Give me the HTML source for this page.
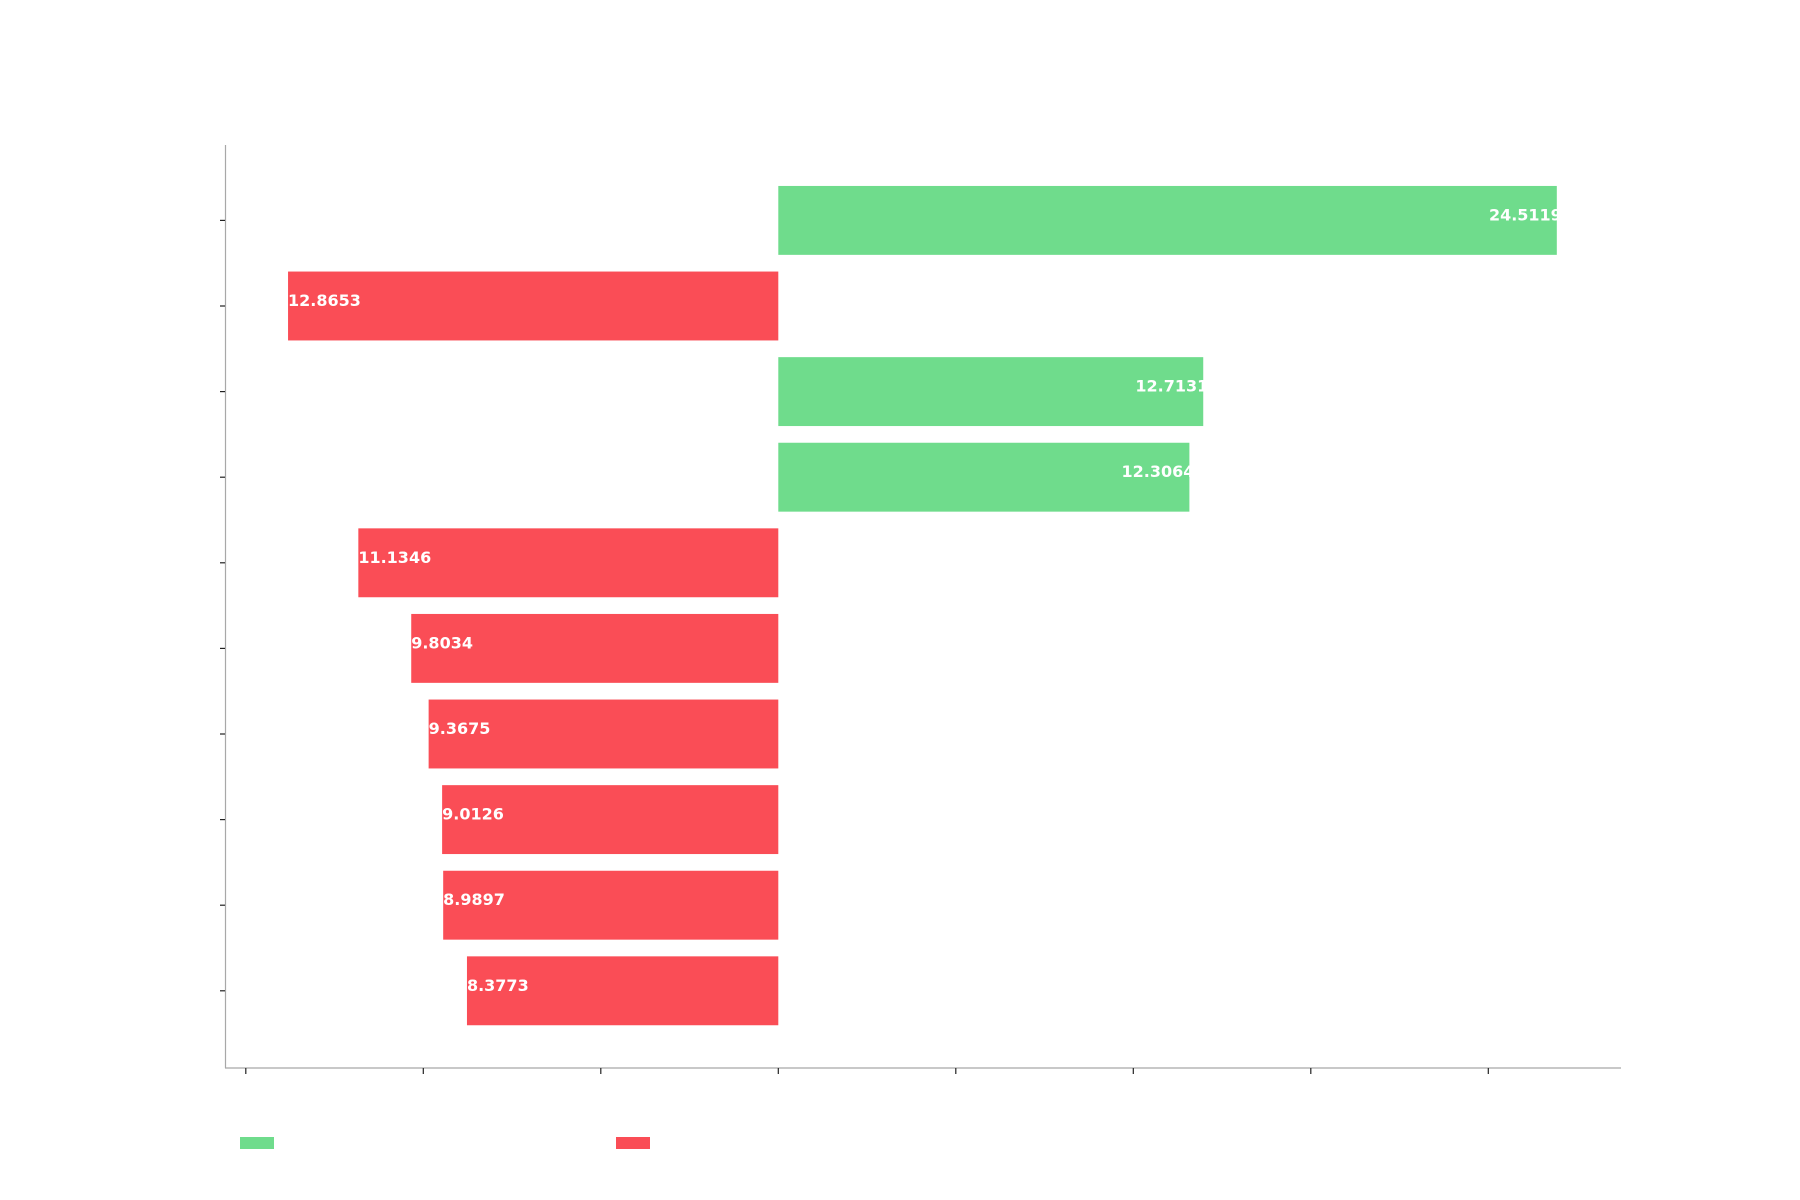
<!DOCTYPE html>
<html><head><meta charset="utf-8"><style>
html,body{margin:0;padding:0;background:#fff;width:1800px;height:1200px;overflow:hidden}
svg text{font-family:"DejaVu Sans","Liberation Sans",sans-serif}
</style></head><body>
<svg id="chart" width="1800" height="1200" viewBox="0 0 1800 1200" xmlns="http://www.w3.org/2000/svg">
<g id="plot"></g>
<line x1="225.5" y1="145" x2="225.5" y2="1068" stroke="#a8a8a8" stroke-width="1.2"/>
<line x1="225" y1="1068" x2="1621" y2="1068" stroke="#a8a8a8" stroke-width="1.2"/>
<rect x="240" y="1137" width="34" height="12" fill="#6fdc8c"/>
<rect x="616" y="1137" width="34" height="12" fill="#fa4d56"/>
</svg>
<script>
const categories = ["r1","r2","r3","r4","r5","r6","r7","r8","r9","r10"];
const barValues = [21.93, -13.81, 11.97, 11.58, -11.83, -10.34, -9.85, -9.47, -9.44, -8.77];
const valueLabels = ["24.5119","12.8653","12.7131","12.3064","11.1346","9.8034","9.3675","9.0126","8.9897","8.3773"];
const xTicks = [-15,-10,-5,0,5,10,15,20];

const NS="http://www.w3.org/2000/svg";
const svg=document.getElementById('chart');
const plot=document.getElementById('plot');
const x0=778.3, pxPerUnit=35.5;
function xScale(v){return x0+v*pxPerUnit;}
const firstC=220.4, band=85.6;
function yScale(i){return firstC+i*band;}
const barH=68.9;

xTicks.forEach(t=>{
  const l=document.createElementNS(NS,'line');
  
  
  l.setAttribute('x1',xScale(t));l.setAttribute('x2',xScale(t));
  l.setAttribute('y1',1068);l.setAttribute('y2',1074);
  l.setAttribute('stroke','#222');l.setAttribute('stroke-width','1.2');
  svg.appendChild(l);
});
categories.forEach((c,i)=>{
  const yc=yScale(i);
  const t=document.createElementNS(NS,'line');
  
  
  t.setAttribute('x1',220);t.setAttribute('x2',225);
  t.setAttribute('y1',yc);t.setAttribute('y2',yc);
  t.setAttribute('stroke','#222');t.setAttribute('stroke-width','1.2');
  svg.appendChild(t);
  const v=barValues[i];
  const xa=xScale(Math.min(0,v)), xb=xScale(Math.max(0,v));
  const r=document.createElementNS(NS,'rect');
  
  
  r.setAttribute('x',xa);r.setAttribute('y',yc-barH/2);
  r.setAttribute('width',xb-xa);r.setAttribute('height',barH);
  r.setAttribute('fill',v>=0?'#6fdc8c':'#fa4d56');
  plot.appendChild(r);
  const tx=document.createElementNS(NS,'text');
  
  
  tx.setAttribute('y',yc);
  tx.setAttribute('fill','#fff');
  tx.setAttribute('font-size','16');
  tx.setAttribute('font-weight','bold');
  if(v>=0){tx.setAttribute('x',xb+5);tx.setAttribute('text-anchor','end');}
  else{tx.setAttribute('x',xa);tx.setAttribute('text-anchor','start');}
  tx.textContent=valueLabels[i];
  plot.appendChild(tx);
});
</script>
</body></html>
